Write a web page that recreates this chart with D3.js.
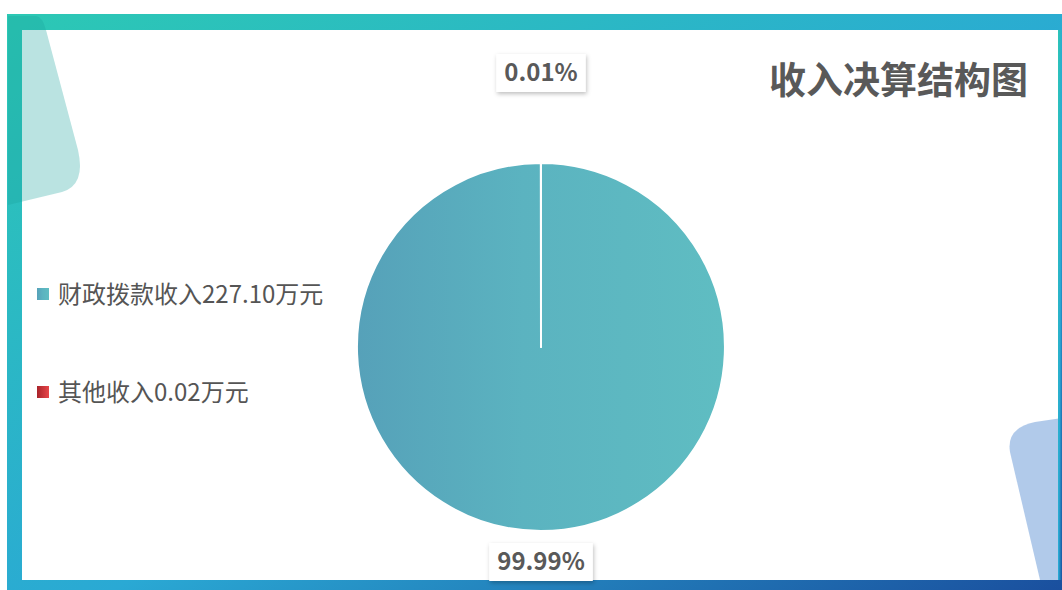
<!DOCTYPE html>
<html>
  <head>
    <meta charset="utf-8">
    <title>收入决算结构图</title>
    <script src="https://d3js.org/d3.v7.min.js"></script>
    <style>
      body { margin: 0; background: #fff; }
      text { font-family: "Noto Sans CJK SC", "Noto Sans", sans-serif; }
    </style>
  </head>
  <body>
    <script>
      const categories = ["财政拨款收入", "其他收入"];
      const amounts = [227.10, 0.02];
      const pctLabels = ["99.99%", "0.01%"];

      const width = 1062, height = 590;
      const svg = d3.select("body").append("svg")
        .attr("width", width).attr("height", height);

      const defs = svg.append("defs");
      const frameGrad = defs.append("linearGradient").attr("id", "frame")
        .attr("x1", "0").attr("y1", "0").attr("x2", "1").attr("y2", "1");
      frameGrad.append("stop").attr("offset", "0%").attr("stop-color", "#2cc8b4");
      frameGrad.append("stop").attr("offset", "55%").attr("stop-color", "#2aa9d4");
      frameGrad.append("stop").attr("offset", "100%").attr("stop-color", "#1a4f9e");

      const pieGrad = defs.append("linearGradient").attr("id", "pieFill")
        .attr("x1", "0").attr("y1", "0").attr("x2", "1").attr("y2", "0");
      pieGrad.append("stop").attr("offset", "0%").attr("stop-color", "#56a1b9");
      pieGrad.append("stop").attr("offset", "45%").attr("stop-color", "#5bb3c0");
      pieGrad.append("stop").attr("offset", "100%").attr("stop-color", "#5fbdc2");

      const redGrad = defs.append("linearGradient").attr("id", "redFill")
        .attr("x1", "0").attr("y1", "0").attr("x2", "1").attr("y2", "0");
      redGrad.append("stop").attr("offset", "0%").attr("stop-color", "#a8242a");
      redGrad.append("stop").attr("offset", "100%").attr("stop-color", "#e8464a");

      const shadow = defs.append("filter").attr("id", "shadow")
        .attr("x", "-20%").attr("y", "-30%").attr("width", "140%").attr("height", "170%");
      shadow.append("feDropShadow").attr("dx", 1).attr("dy", 2)
        .attr("stdDeviation", 2).attr("flood-color", "#000").attr("flood-opacity", 0.25);

      // frame
      svg.append("rect").attr("x", 7).attr("y", 14).attr("width", width - 7).attr("height", height - 14)
        .attr("fill", "url(#frame)");
      svg.append("rect").attr("x", 22).attr("y", 30).attr("width", 1036).attr("height", 550)
        .attr("fill", "#fff");

      // decorative shapes
      svg.append("path")
        .attr("d", "M8,16 L36,16 Q42,16 46,30 L78,150 Q86,185 62,192 L8,205 Z")
        .attr("fill", "#1aa39d").attr("opacity", 0.3);
      svg.append("path")
        .attr("d", "M1062,418 L1035,422 Q1006,428 1010,452 L1040,580 L1062,580 Z")
        .attr("fill", "#a9c4e8").attr("opacity", 0.9);
      svg.append("rect").attr("x", 1058).attr("y", 30).attr("width", 4).attr("height", 550)
        .attr("fill", "url(#frame)");

      // title
      svg.append("text").attr("x", 1028).attr("y", 94).attr("text-anchor", "end")
        .attr("font-size", 37).attr("font-weight", "bold").attr("fill", "#595959")
        .text("收入决算结构图");

      // pie
      const cx = 541, cy = 347, r = 184;
      const pie = d3.pie().sort(null).startAngle(0).endAngle(2 * Math.PI)(amounts);
      const arc = d3.arc().innerRadius(0).outerRadius(r);
      const fills = ["url(#pieFill)", "url(#redFill)"];
      const g = svg.append("g").attr("transform", `translate(${cx},${cy})`);
      g.selectAll("path").data(pie).join("path")
        .attr("d", arc)
        .attr("fill", (d, i) => fills[i])
        .attr("stroke", "#fff").attr("stroke-width", 2).attr("stroke-linejoin", "round");

      // percentage labels
      const labelPos = [{ x: cx, y: 562 }, { x: cx, y: 73 }];
      pie.forEach((d, i) => {
        const lg = svg.append("g").attr("transform", `translate(${labelPos[i].x},${labelPos[i].y})`);
        const t = lg.append("text").attr("text-anchor", "middle").attr("dy", "0.35em")
          .attr("font-size", 24).attr("font-weight", "bold").attr("fill", "#595959")
          .text(pctLabels[i]);
        const bb = t.node().getBBox();
        lg.insert("rect", "text")
          .attr("x", bb.x - 8).attr("y", -19).attr("width", bb.width + 16).attr("height", 38)
          .attr("fill", "#fff").attr("filter", "url(#shadow)");
      });

      // legend
      const legendY = d3.scalePoint().domain(categories).range([294, 392]);
      const leg = svg.append("g").selectAll("g").data(categories).join("g")
        .attr("transform", d => `translate(37,${legendY(d)})`);
      leg.append("rect").attr("x", 0).attr("y", -6).attr("width", 12).attr("height", 12)
        .attr("fill", (d, i) => fills[i]);
      leg.append("text").attr("x", 21).attr("dy", "0.36em")
        .attr("font-size", 24).attr("fill", "#555")
        .text((d, i) => categories[i] + amounts[i].toFixed(2) + "万元");
    </script>
  </body>
</html>
